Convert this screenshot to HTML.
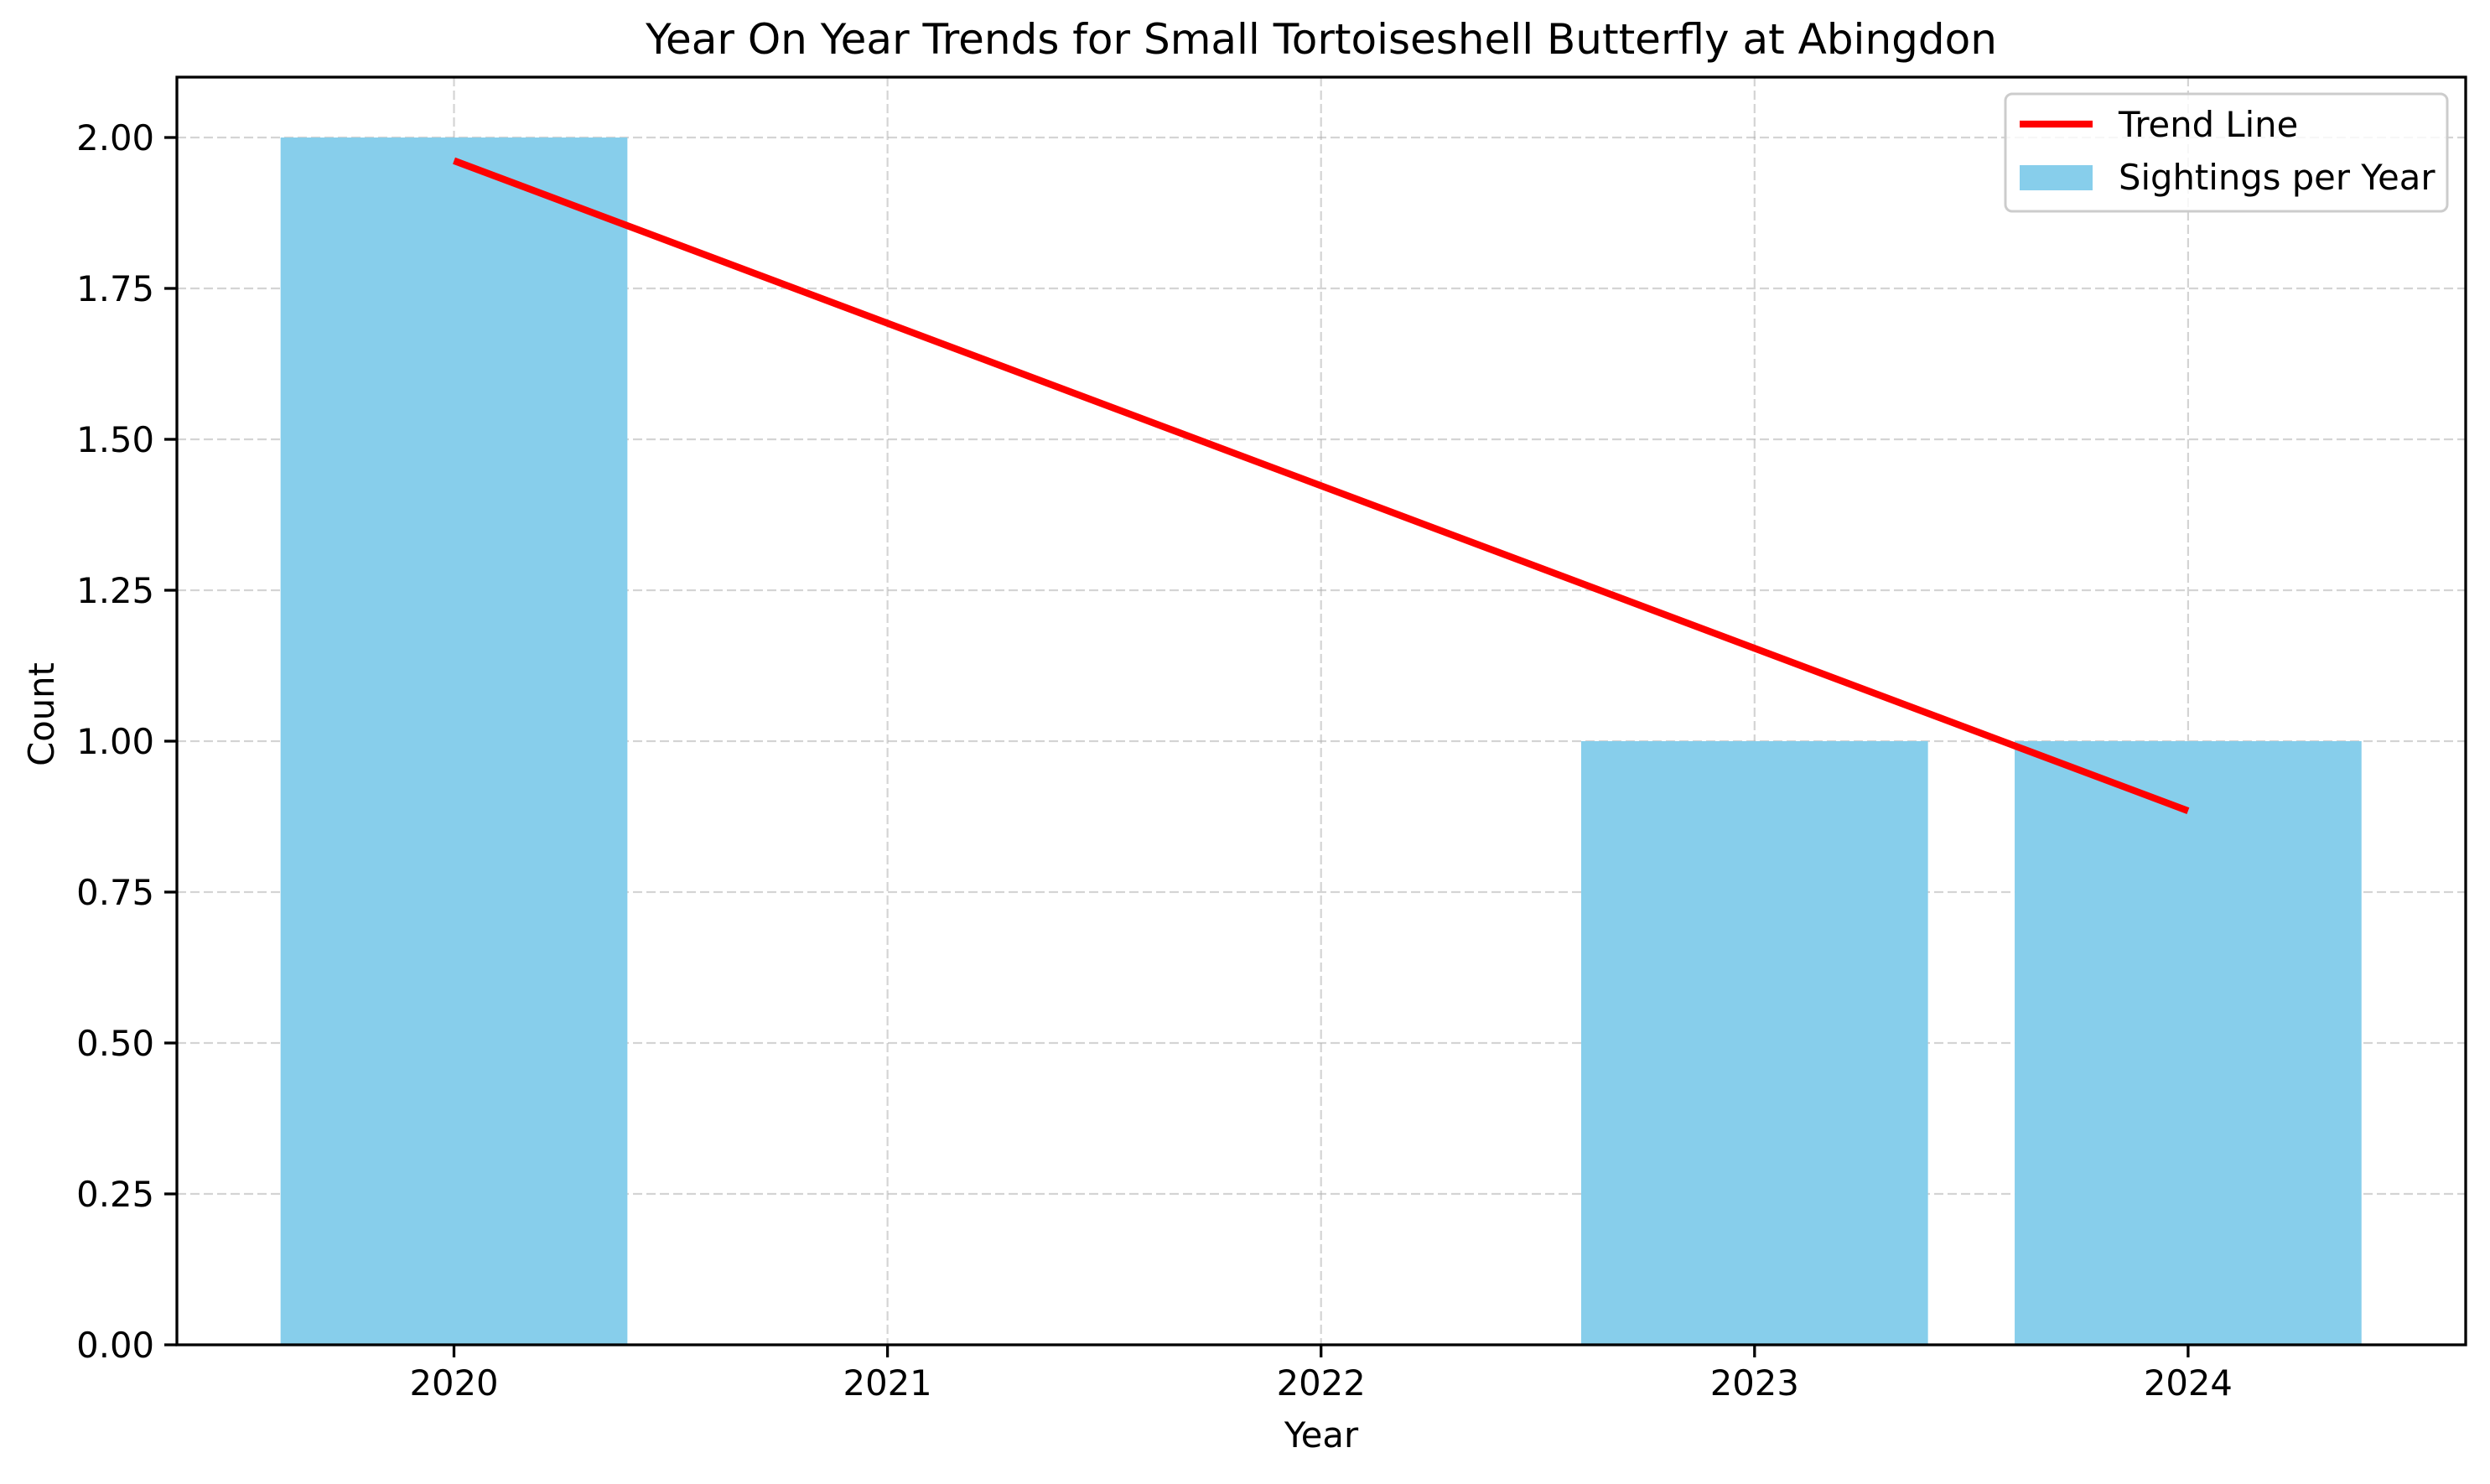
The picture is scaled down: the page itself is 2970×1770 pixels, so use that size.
<!DOCTYPE html>
<html><head><meta charset="utf-8"><style>
body{margin:0;background:#fff}
svg text{font-family:"DejaVu Sans","Liberation Sans",sans-serif;fill:#000}
</style></head><body>
<svg id="chart" width="2970" height="1765" xmlns="http://www.w3.org/2000/svg">
<rect width="2970" height="1765" fill="#fff"/>
<text x="1576" y="64" font-size="50" text-anchor="middle">Year On Year Trends for Small Tortoiseshell Butterfly at Abingdon</text>
<g id="grid"></g><g id="bars"></g><g id="trend"></g>
<rect x="211" y="92" width="2730" height="1512" fill="none" stroke="#000" stroke-width="3.3"/>
<g id="axes"></g>
<text x="1576" y="1726" font-size="41.7" text-anchor="middle">Year</text>
<text transform="translate(64,852) rotate(-90)" font-size="41.7" text-anchor="middle">Count</text>
<g>
<rect x="2392" y="112" width="527" height="140" rx="8" fill="#fff" fill-opacity="0.8" stroke="#ccc" stroke-width="3"/>
<line x1="2409" y1="148" x2="2496" y2="148" stroke="#ff0000" stroke-width="8.3"/>
<text x="2527" y="163" font-size="41.7">Trend Line</text>
<rect x="2409" y="197" width="87" height="30" fill="#87ceeb"/>
<text x="2527" y="226" font-size="41.7">Sightings per Year</text>
</g>
</svg>
<script>
const years = [2020, 2021, 2022, 2023, 2024];
const counts = [2, 0, 0, 1, 1];
const yTicks = [0, 0.25, 0.5, 0.75, 1.0, 1.25, 1.5, 1.75, 2.0];
const yTickLabels = ["0.00","0.25","0.50","0.75","1.00","1.25","1.50","1.75","2.00"];
const NS="http://www.w3.org/2000/svg";
const X0=541.5, XS=517.1, Y0=1604, YS=720;
function xs(v){return X0+(v-years[0])*XS;}
function ys(v){return Y0-v*YS;}
function mk(t,a,p){const e=document.createElementNS(NS,t);for(const k in a)e.setAttribute(k,a[k]);p.appendChild(e);return e;}
const grid=document.getElementById('grid'),bars=document.getElementById('bars'),axes=document.getElementById('axes'),trend=document.getElementById('trend');
yTicks.forEach((v,i)=>{
 const g=mk('line',{x1:211,x2:2941,y1:ys(v),y2:ys(v),stroke:'#b0b0b0','stroke-opacity':0.55,'stroke-width':2.2,'stroke-dasharray':'11,5'},grid);
 
 
 const t=mk('line',{x1:196,x2:211,y1:ys(v),y2:ys(v),stroke:'#000','stroke-width':3.3},axes);
 
 
 const l=mk('text',{x:184,y:ys(v)+15,'font-size':41.7,'text-anchor':'end'},axes);
 l.textContent=yTickLabels[i];
 
 
});
years.forEach((yr,i)=>{
 const g=mk('line',{x1:xs(yr),x2:xs(yr),y1:92,y2:1604,stroke:'#b0b0b0','stroke-opacity':0.55,'stroke-width':2.2,'stroke-dasharray':'11,5'},grid);
 
 
 if(counts[i]>0){
  const b=mk('rect',{x:xs(yr)-0.4*XS,y:ys(counts[i]),width:0.8*XS,height:Y0-ys(counts[i]),fill:'#87ceeb'},bars);
  
  
 }
 const t=mk('line',{x1:xs(yr),x2:xs(yr),y1:1604,y2:1619,stroke:'#000','stroke-width':3.3},axes);
 
 
 const l=mk('text',{x:xs(yr),y:1664,'font-size':41.7,'text-anchor':'middle'},axes);
 l.textContent=yr;
 
 
});
// linear fit over years with sightings
const px=[],py=[];years.forEach((y,i)=>{if(counts[i]>0){px.push(y);py.push(counts[i]);}});
const mx=px.reduce((a,b)=>a+b,0)/px.length,my=py.reduce((a,b)=>a+b,0)/py.length;
let num=0,den=0;px.forEach((x,i)=>{num+=(x-mx)*(py[i]-my);den+=(x-mx)**2;});
const slope=num/den;
const fx=v=>my+slope*(v-mx);
const a=px[0],b=px[px.length-1];
const tl=mk('line',{x1:xs(a),y1:ys(fx(a)),x2:xs(b),y2:ys(fx(b)),stroke:'#ff0000','stroke-width':8.3},trend);


</script>
</body></html>
